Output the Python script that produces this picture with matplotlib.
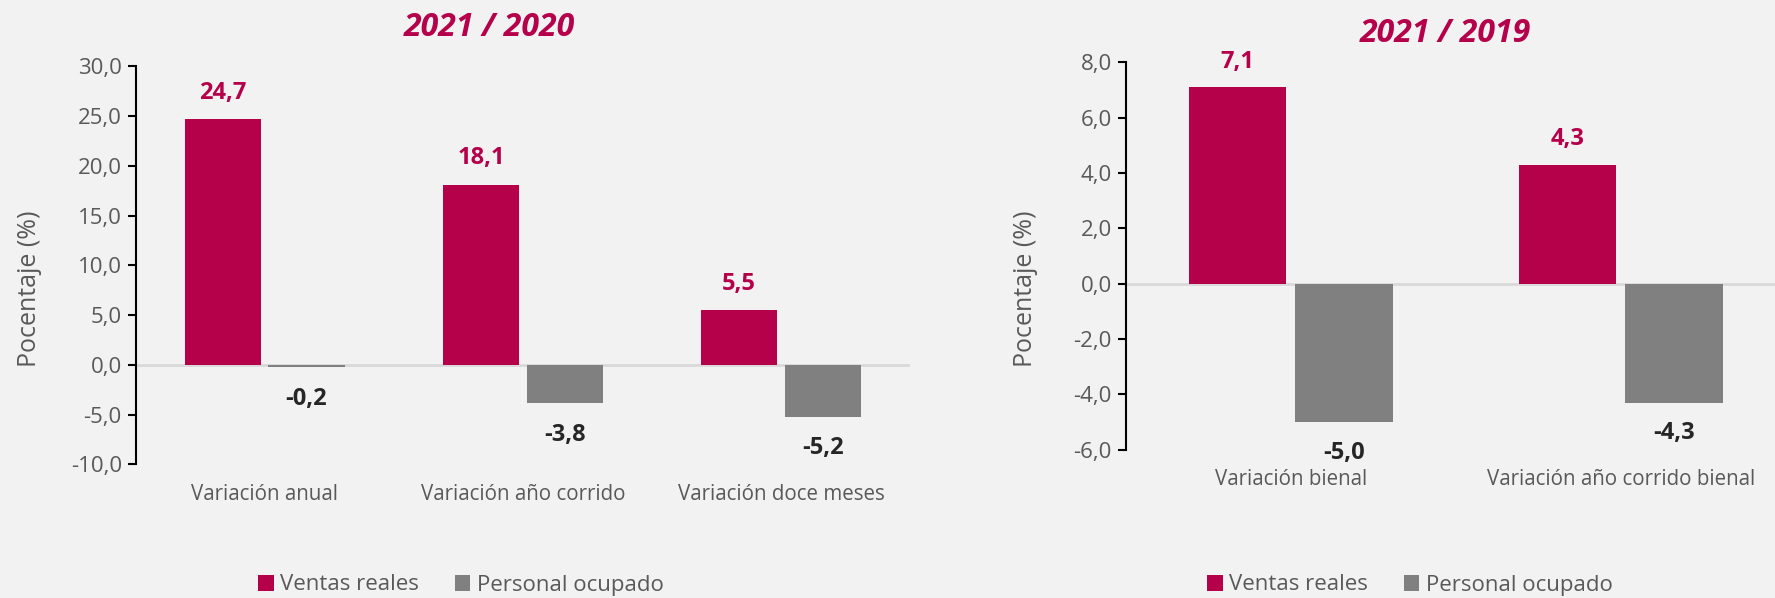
import matplotlib
matplotlib.use("Agg")
import matplotlib.pyplot as plt
from matplotlib.patches import Patch
from matplotlib.ticker import FuncFormatter, MultipleLocator
import numpy as np

plt.rcParams['font.family'] = ['Open Sans', 'DejaVu Sans']

# 2021 / 2020
cats_a = ['Variación anual', 'Variación año corrido', 'Variación doce meses']
ventas_a = [24.7, 18.1, 5.5]
personal_a = [-0.2, -3.8, -5.2]

# 2021 / 2019
cats_b = ['Variación bienal', 'Variación año corrido bienal']
ventas_b = [7.1, 4.3]
personal_b = [-5.0, -4.3]

series = ['Ventas reales', 'Personal ocupado']

RED = '#B5004A'
GREY = '#808080'
BG = '#F2F2F2'
TXT = '#595959'

W, H = 1775, 598
fig = plt.figure(figsize=(W / 100, H / 100), dpi=100, facecolor=BG)


def fmt(v):
    return f'{v:.1f}'.replace('.', ',')


def panel(rect, cats, ventas, personal, ylim, step, xmax, title, title_xy,
          off_pos, off_neg, leg_x, ylab_xy):
    ax = fig.add_axes(rect)
    ax.set_facecolor(BG)
    x = np.arange(len(cats))
    w = 0.295
    d = 0.162
    ax.bar(x - d, ventas, w, color=RED, zorder=3)
    ax.bar(x + d, personal, w, color=GREY, zorder=3)
    ax.axhline(0, color='#D9D9D9', lw=2, zorder=2)
    for xi, v in zip(x - d, ventas):
        ax.annotate(fmt(v), (xi, v), xytext=(0, off_pos), textcoords='offset points',
                    ha='center', va='center', fontsize=17, fontweight='bold', color=RED)
    for xi, v in zip(x + d, personal):
        ax.annotate(fmt(v), (xi, v), xytext=(0, -off_neg), textcoords='offset points',
                    ha='center', va='center', fontsize=17, fontweight='bold', color='#262626')
    ax.set_xlim(-0.5, xmax)
    ax.set_ylim(*ylim)
    ax.yaxis.set_major_locator(MultipleLocator(step))
    ax.yaxis.set_major_formatter(FuncFormatter(lambda v, p: fmt(v)))
    ax.set_xticks(x)
    ax.set_xticklabels(cats)
    ax.tick_params(axis='x', length=0, pad=14, labelsize=14.8, labelcolor=TXT)
    ax.tick_params(axis='y', length=6, width=1.5, labelsize=16, labelcolor=TXT, pad=4)
    for s in ['top', 'right', 'bottom']:
        ax.spines[s].set_visible(False)
    ax.spines['left'].set_linewidth(1.5)
    ax.spines['left'].set_color('black')
    ax.set_ylabel('Pocentaje (%)', fontsize=18, color=TXT)
    ax.yaxis.set_label_coords(*ylab_xy)
    fig.text(title_xy[0], title_xy[1], title, ha='center', va='center',
             fontsize=23, fontweight='bold', fontstyle='italic', color=RED)
    handles = [Patch(facecolor=RED), Patch(facecolor=GREY)]
    fig.legend(handles, series, loc='center', bbox_to_anchor=(leg_x, 1 - 585 / H),
               ncol=2, frameon=False, fontsize=16, labelcolor=TXT,
               handlelength=0.7, handleheight=0.7, handletextpad=0.3,
               columnspacing=1.6, borderaxespad=0)
    return ax


panel([135.7 / W, 1 - 464.3 / H, (910 - 135.7) / W, (464.3 - 66.3) / H],
      cats_a, ventas_a, personal_a, (-10, 30), 5, 2.5,
      '2021 / 2020', (489 / W, 1 - 27 / H), 19, 23, 461 / W, (-0.121, 0.44))

panel([1125.7 / W, 1 - 449.7 / H, (W - 1125.7) / W, (449.7 - 62.3) / H],
      cats_b, ventas_b, personal_b, (-6, 8), 2, -0.5 + (W - 1125.7) / 330,
      '2021 / 2019', (1445 / W, 1 - 33 / H), 18.5, 22, 1410 / W, (-0.135, 0.415))

fig.savefig('out.png', dpi=100, facecolor=BG)
